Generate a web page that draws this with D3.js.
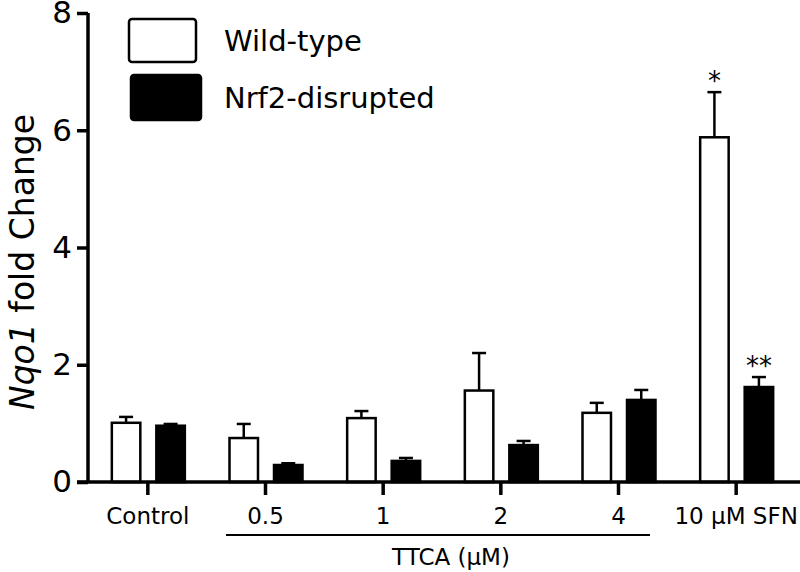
<!DOCTYPE html>
<html>
<head>
<meta charset="utf-8">
<script src="https://cdn.jsdelivr.net/npm/d3@7"></script>
<style>
	body { margin: 0; background: #fff; }
	text { font-family: "DejaVu Sans", Verdana, sans-serif; fill: #000; }
</style>
</head>
<body>
<svg id="chart" width="800" height="572" viewBox="0 0 800 572"></svg>
<script>

// values
const categories = ["Control", "0.5", "1", "2", "4", "10 μM SFN"];
const series = ["Wild-type", "Nrf2-disrupted"];
const wildType = [1.01, 0.75, 1.09, 1.56, 1.18, 5.88];
const wildTypeErr = [0.10, 0.24, 0.12, 0.64, 0.17, 0.77];
const nrf2 = [0.96, 0.29, 0.36, 0.63, 1.40, 1.62];
const nrf2Err = [0.03, 0.03, 0.05, 0.07, 0.17, 0.17];
const yTicks = [0, 2, 4, 6, 8];
const wildTypeStars = ["", "", "", "", "", "*"];
const nrf2Stars = ["", "", "", "", "", "**"];

function whenDocumentLoaded(action) {
	if (document.readyState === "loading") {
		document.addEventListener("DOMContentLoaded", action);
	} else {
		action();
	}
}

whenDocumentLoaded(() => {
	const svg = d3.select("#chart");

	const x = d3.scaleBand()
		.domain(categories)
		.range([89, 795])
		.padding(0);

	const inner = d3.scaleBand()
		.domain(series)
		.range([-37, 38])
		.paddingInner(0.315);

	const y = d3.scaleLinear()
		.domain([0, 8])
		.range([482, 13]);

	const fills = ["#fff", "#000"];
	const values = [wildType, nrf2];
	const errs = [wildTypeErr, nrf2Err];
	const starSets = [wildTypeStars, nrf2Stars];

	// bars + error bars
	series.forEach((s, si) => {
		const g = svg.append("g");
		const rows = categories.map((c, i) => ({c: c, v: values[si][i], e: errs[si][i], star: starSets[si][i]}));
		const cx = d => x(d.c) + x.bandwidth() / 2 + inner(s) + inner.bandwidth() / 2;

		g.selectAll("line.err")
			.data(rows)
			.enter()
			.append("line")
				.attr("x1", cx).attr("x2", cx)
				.attr("y1", d => y(d.v)).attr("y2", d => y(d.v + d.e))
				.attr("stroke", "#000").attr("stroke-width", 2.5);

		g.selectAll("line.cap")
			.data(rows)
			.enter()
			.append("line")
				.attr("x1", d => cx(d) - 7).attr("x2", d => cx(d) + 7)
				.attr("y1", d => y(d.v + d.e)).attr("y2", d => y(d.v + d.e))
				.attr("stroke", "#000").attr("stroke-width", 2.5);

		g.selectAll("rect")
			.data(rows)
			.enter()
			.append("rect")
				.attr("x", d => x(d.c) + x.bandwidth() / 2 + inner(s) + 1)
				.attr("y", d => y(d.v))
				.attr("width", inner.bandwidth() - 2)
				.attr("height", d => y(0) - y(d.v))
				.attr("fill", fills[si])
				.attr("stroke", "#000")
				.attr("stroke-width", 2.5);

		g.selectAll("text")
			.data(rows.filter(d => d.star))
			.enter()
			.append("text")
				.attr("x", cx)
				.attr("y", d => y(d.v + d.e) - 2)
				.attr("text-anchor", "middle")
				.style("font-size", "26px")
				.text(d => d.star);
	});

	// y axis
	const yAxis = d3.axisLeft(y)
		.tickValues(yTicks)
		.tickSize(11)
		.tickSizeOuter(0)
		.tickPadding(5)
		.tickFormat(d3.format("d"));

	const yg = svg.append("g")
		.attr("transform", "translate(88,0)")
		.call(yAxis);
	yg.select(".domain").attr("stroke-width", 3.5).attr("d", "M0," + y(8) + "V" + y(0));
	yg.selectAll(".tick line").attr("stroke-width", 3.5);
	yg.selectAll(".tick text")
		.style("font-family", '"DejaVu Sans", Verdana, sans-serif')
		.style("font-size", "31px");

	// x axis
	const xAxis = d3.axisBottom(x)
		.tickSize(13)
		.tickSizeOuter(0)
		.tickPadding(13);

	const xg = svg.append("g")
		.attr("transform", "translate(0," + y(0) + ")")
		.call(xAxis);
	xg.select(".domain").attr("stroke-width", 3.5).attr("d", "M77,0H800");
	xg.selectAll(".tick line").attr("stroke-width", 3.5);
	xg.selectAll(".tick text")
		.style("font-family", '"DejaVu Sans", Verdana, sans-serif')
		.style("font-size", "23px");

	// TTCA bracket
	svg.append("line")
		.attr("x1", 226).attr("x2", 650)
		.attr("y1", 535).attr("y2", 535)
		.attr("stroke", "#000").attr("stroke-width", 1.8);

	svg.append("text")
		.attr("x", (x("0.5") + x("4") + x.bandwidth()) / 2 + 9)
		.attr("y", 565)
		.attr("text-anchor", "middle")
		.style("font-size", "23px")
		.text("TTCA (μM)");

	// y title
	const yt = svg.append("text")
		.attr("transform", "translate(34,262) rotate(-90)")
		.attr("text-anchor", "middle")
		.style("font-size", "33px");
	yt.append("tspan").style("font-style", "italic").text("Nqo1");
	yt.append("tspan").text(" fold Change");

	// legend
	const legend = svg.append("g");
	const legendRows = [
		{label: series[0], fill: fills[0], x: 129, y: 19, w: 67, h: 43},
		{label: series[1], fill: fills[1], x: 131, y: 75, w: 70, h: 45}
	];
	legend.selectAll("rect")
		.data(legendRows)
		.enter()
		.append("rect")
			.attr("x", d => d.x).attr("y", d => d.y)
			.attr("width", d => d.w).attr("height", d => d.h)
			.attr("rx", 3)
			.attr("fill", d => d.fill)
			.attr("stroke", "#000")
			.attr("stroke-width", 2.5);
	legend.selectAll("text")
		.data(legendRows)
		.enter()
		.append("text")
			.attr("x", 224)
			.attr("y", d => d.y + d.h / 2 + 10)
			.style("font-size", "29px")
			.text(d => d.label);
});
</script>
</body>
</html>
